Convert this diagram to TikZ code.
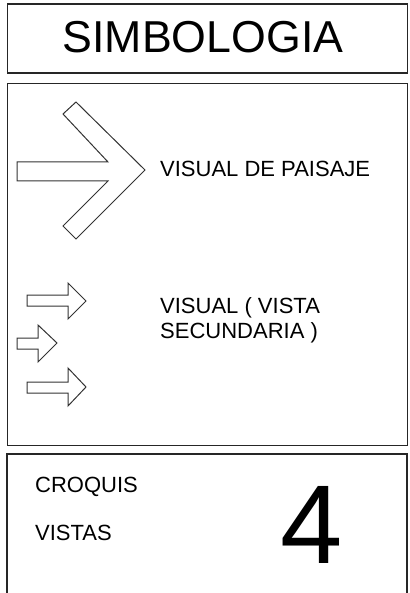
\documentclass[tikz,border=0pt]{standalone}
\usepackage{fontspec}
\setmainfont{Liberation Sans}
\begin{document}
\begin{tikzpicture}[x=1pt,y=-1pt,
  frame/.style={draw=black!85,line width=1.3pt},
  arrowshape/.style={draw=black!80,line width=1pt,line join=miter},
  label/.style={anchor=base west,inner sep=0pt,font=\fontsize{22}{25}\selectfont,align=left}]
\useasboundingbox (0,0) rectangle (409,593);
% frames
\node[frame,minimum width=400pt,minimum height=69pt,inner sep=0pt,anchor=north west] (title) at (6.5,3.5) {};
\node[anchor=base,inner sep=0pt,font=\fontsize{44.7}{50}\selectfont] (titletext) at (203,53) {SIMBOLOGIA};
\node[frame,minimum width=400pt,minimum height=362pt,inner sep=0pt,anchor=north west] (legend) at (6.5,83) {};
\draw[frame] (7,593) -- (7,454) -- (407,454) -- (407,593);
% big arrow
\draw[arrowshape] (17,162) -- (108,162) -- (63,114) -- (76,102) -- (145,170) -- (76,239) -- (63,226) -- (108,181) -- (17,181) -- cycle;
% small arrows
\draw[arrowshape] (27,295) -- (68,295) -- (68,283) -- (86,301) -- (68,319) -- (68,306) -- (27,306) -- cycle;
\draw[arrowshape] (17,338) -- (38,338) -- (38,325) -- (57,343) -- (38,362) -- (38,349) -- (17,349) -- cycle;
\draw[arrowshape] (27,382) -- (68,382) -- (68,368) -- (86,387) -- (68,406) -- (68,393) -- (27,393) -- cycle;
% texts
\node[label] (paisaje) at (160,177) {VISUAL DE PAISAJE};
\node[label] (secundaria) at (160,338) {VISUAL ( VISTA\\SECUNDARIA )};
\node[label] (croquis) at (35,492) {CROQUIS};
\node[label] (vistas) at (35,540) {VISTAS};
\node[anchor=base,inner sep=0pt,font=\fontsize{112}{120}\selectfont] (num) at (312,563) {4};
\end{tikzpicture}
\end{document}
